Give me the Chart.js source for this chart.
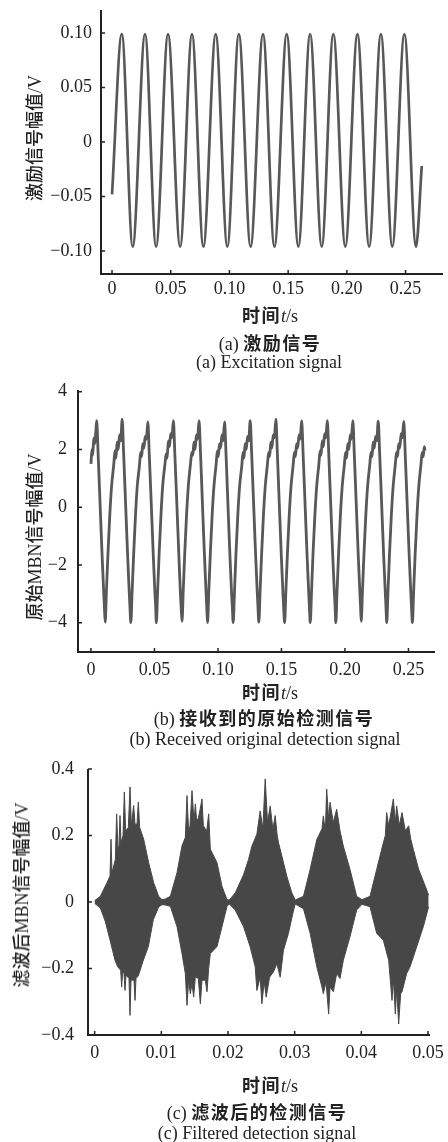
<!DOCTYPE html>
<html lang="zh">
<head>
<meta charset="UTF-8">
<title>MBN signals</title>
<script src="https://cdn.jsdelivr.net/npm/chart.js"></script>
<style>
  html, body { margin: 0; padding: 0; overflow: hidden; background: #fff; }
  #page { position: relative; width: 448px; height: 1142px; }
  canvas { position: absolute; left: 0; }
  .t { position: absolute; transform: translate(-50%, -50%); white-space: nowrap; line-height: 1;
       font-family: "Liberation Serif", "Noto Sans CJK SC", serif; font-size: 18px; color: #222; }
  .yt { transform: translate(-50%, -50%) rotate(-90deg); }
  .zh { font-family: "Noto Sans CJK SC", sans-serif; font-weight: 500; }
  .b { font-weight: bold; letter-spacing: 1.5px; }
</style>
</head>
<body>
<div id="page">
  <canvas id="chartA" width="470" height="334" style="top:-20px"></canvas>
  <canvas id="chartB" width="470" height="332" style="top:360px"></canvas>
  <canvas id="chartC" width="470" height="336" style="top:739px"></canvas>

  <div class="t yt" style="left:34px; top:138px"><span class="zh">激励信号幅值</span>/V</div>
  <div class="t" style="left:270px; top:315px"><span class="zh b">时间</span><i>t</i>/s</div>
  <div class="t" style="left:270px; top:343px">(a) <span class="zh b">激励信号</span></div>
  <div class="t" style="left:269px; top:362px">(a) Excitation signal</div>

  <div class="t yt" style="left:34px; top:537px"><span class="zh">原始</span>MBN<span class="zh">信号幅值</span>/V</div>
  <div class="t" style="left:270px; top:692px"><span class="zh b">时间</span><i>t</i>/s</div>
  <div class="t" style="left:264px; top:718px">(b) <span class="zh b">接收到的原始检测信号</span></div>
  <div class="t" style="left:265px; top:739px">(b) Received original detection signal</div>

  <div class="t yt" style="left:21px; top:895px"><span class="zh">滤波后</span>MBN<span class="zh">信号幅值</span>/V</div>
  <div class="t" style="left:270px; top:1085px"><span class="zh b">时间</span><i>t</i>/s</div>
  <div class="t" style="left:257px; top:1112px">(c) <span class="zh b">滤波后的检测信号</span></div>
  <div class="t" style="left:257px; top:1133px">(c) Filtered detection signal</div>
</div>

<script>
// ---- (a) excitation signal: start, alternating peaks / troughs, end
const aTime = [0, 0.0083, 0.0176, 0.0281, 0.0375, 0.0477, 0.0580, 0.0681, 0.0778, 0.0883, 0.0982,
  0.1080, 0.1180, 0.1286, 0.1383, 0.1488, 0.1587, 0.1687, 0.1786, 0.1885, 0.1987, 0.2090,
  0.2190, 0.2290, 0.2387, 0.2490, 0.2589, 0.2638];
const aVolt = [-0.048, 0.099, -0.096, 0.099, -0.096, 0.099, -0.096, 0.099, -0.096, 0.099, -0.096,
  0.099, -0.096, 0.099, -0.096, 0.099, -0.096, 0.099, -0.096, 0.099, -0.096, 0.099,
  -0.096, 0.099, -0.096, 0.099, -0.096, -0.022];

// ---- (b) received original signal
const bTime = [
  0.0000, 0.0008, 0.0014, 0.0022, 0.0030, 0.0038, 0.0045, 0.0056, 0.0072, 0.0088, 0.0101, 0.0106,
  0.0112, 0.0122, 0.0134, 0.0148, 0.0162, 0.0180, 0.0189, 0.0197, 0.0206, 0.0215, 0.0225, 0.0234, 0.0246, 0.0257, 0.0273, 0.0289, 0.0302, 0.0307,
  0.0314, 0.0324, 0.0336, 0.0350, 0.0364, 0.0382, 0.0391, 0.0399, 0.0408, 0.0417, 0.0427, 0.0436, 0.0448, 0.0459, 0.0475, 0.0491, 0.0504, 0.0509,
  0.0515, 0.0525, 0.0537, 0.0551, 0.0565, 0.0583, 0.0592, 0.0600, 0.0609, 0.0618, 0.0628, 0.0637, 0.0649, 0.0660, 0.0676, 0.0692, 0.0705, 0.0710,
  0.0717, 0.0727, 0.0739, 0.0753, 0.0767, 0.0785, 0.0794, 0.0802, 0.0811, 0.0820, 0.0830, 0.0839, 0.0851, 0.0862, 0.0878, 0.0894, 0.0907, 0.0912,
  0.0918, 0.0928, 0.0940, 0.0954, 0.0968, 0.0986, 0.0995, 0.1003, 0.1012, 0.1021, 0.1031, 0.1040, 0.1052, 0.1063, 0.1079, 0.1095, 0.1108, 0.1113,
  0.1120, 0.1130, 0.1142, 0.1156, 0.1170, 0.1188, 0.1197, 0.1205, 0.1214, 0.1223, 0.1233, 0.1242, 0.1254, 0.1265, 0.1281, 0.1297, 0.1310, 0.1315,
  0.1322, 0.1332, 0.1344, 0.1358, 0.1372, 0.1390, 0.1399, 0.1407, 0.1416, 0.1425, 0.1435, 0.1444, 0.1456, 0.1467, 0.1483, 0.1499, 0.1512, 0.1517,
  0.1525, 0.1535, 0.1547, 0.1561, 0.1575, 0.1593, 0.1602, 0.1610, 0.1619, 0.1628, 0.1638, 0.1647, 0.1659, 0.1670, 0.1686, 0.1702, 0.1715, 0.1720,
  0.1727, 0.1737, 0.1749, 0.1763, 0.1777, 0.1795, 0.1804, 0.1812, 0.1821, 0.1830, 0.1840, 0.1849, 0.1861, 0.1872, 0.1888, 0.1904, 0.1917, 0.1922,
  0.1928, 0.1938, 0.1950, 0.1964, 0.1978, 0.1996, 0.2005, 0.2013, 0.2022, 0.2031, 0.2041, 0.2050, 0.2062, 0.2073, 0.2089, 0.2105, 0.2118, 0.2123,
  0.2128, 0.2138, 0.2150, 0.2164, 0.2178, 0.2196, 0.2205, 0.2213, 0.2222, 0.2231, 0.2241, 0.2250, 0.2262, 0.2273, 0.2289, 0.2305, 0.2318, 0.2323,
  0.2329, 0.2339, 0.2351, 0.2365, 0.2379, 0.2397, 0.2406, 0.2414, 0.2423, 0.2432, 0.2442, 0.2451, 0.2463, 0.2474, 0.2490, 0.2506, 0.2519, 0.2524,
  0.2531, 0.2541, 0.2553, 0.2567, 0.2581, 0.2599, 0.2608, 0.2616, 0.2625, 0.2630
];
const bVolt = [
  1.5, 2.0, 1.8, 2.4, 2.2, 2.6, 3.0, 1.9, 0.1, -1.7, -3.0, -3.45,
  -3.98, -2.9, -1.6, -0.3, 0.7, 1.5, 1.95, 1.7, 2.25, 2.0, 2.5, 2.3, 3.05, 1.9, 0.1, -1.7, -3.0, -3.45,
  -4.0, -2.95, -1.65, -0.35, 0.7, 1.45, 1.9, 1.75, 2.2, 2.05, 2.45, 2.35, 2.95, 1.85, 0.1, -1.7, -3.0, -3.4,
  -4.0, -2.9, -1.6, -0.3, 0.75, 1.5, 1.85, 1.7, 2.3, 2.1, 2.55, 2.4, 3.0, 1.9, 0.15, -1.65, -3.05, -3.45,
  -3.95, -2.85, -1.55, -0.25, 0.75, 1.55, 1.9, 1.8, 2.25, 2.0, 2.5, 2.35, 3.0, 1.95, 0.1, -1.7, -3.0, -3.5,
  -4.0, -2.9, -1.6, -0.3, 0.7, 1.5, 1.95, 1.75, 2.2, 2.05, 2.5, 2.3, 2.95, 1.9, 0.05, -1.75, -3.05, -3.45,
  -4.0, -2.95, -1.6, -0.3, 0.7, 1.45, 1.9, 1.7, 2.2, 2.0, 2.45, 2.3, 3.0, 1.9, 0.1, -1.7, -3.0, -3.45,
  -3.98, -2.9, -1.6, -0.3, 0.7, 1.5, 1.9, 1.75, 2.25, 2.05, 2.5, 2.4, 3.05, 1.95, 0.1, -1.7, -3.0, -3.45,
  -4.0, -2.9, -1.6, -0.3, 0.7, 1.5, 1.9, 1.75, 2.2, 2.05, 2.5, 2.35, 3.0, 1.9, 0.1, -1.7, -3.0, -3.45,
  -4.0, -2.9, -1.55, -0.3, 0.7, 1.5, 1.95, 1.8, 2.3, 2.1, 2.55, 2.4, 3.0, 1.9, 0.1, -1.7, -3.0, -3.4,
  -4.0, -2.9, -1.6, -0.3, 0.7, 1.5, 1.9, 1.7, 2.2, 2.0, 2.5, 2.35, 3.0, 1.9, 0.1, -1.7, -3.0, -3.45,
  -3.95, -2.9, -1.6, -0.3, 0.7, 1.5, 1.9, 1.75, 2.25, 2.05, 2.45, 2.3, 2.98, 1.9, 0.1, -1.7, -3.0, -3.45,
  -4.0, -2.9, -1.6, -0.3, 0.7, 1.5, 1.9, 1.75, 2.2, 2.05, 2.55, 2.4, 2.97, 1.9, 0.1, -1.7, -3.0, -3.45,
  -4.0, -2.9, -1.6, -0.3, 0.7, 1.5, 1.9, 1.75, 2.1, 1.96
];

// ---- (c) filtered signal, upper and lower envelope of the bursts
const cTopTime = [0, 0.00085, 0.00185, 0.0023, 0.00245, 0.0026, 0.0031, 0.0033, 0.0035, 0.00365, 0.0038, 0.00395,
  0.00425, 0.00445, 0.00465, 0.00505, 0.0053, 0.0055, 0.00585, 0.00605, 0.00635, 0.00655, 0.00675, 0.00735,
  0.0081, 0.00885, 0.0096, 0.0101, 0.0106,
  0.01135, 0.01235, 0.0131, 0.0136, 0.01385, 0.0141, 0.0143, 0.0146, 0.0149, 0.0151, 0.0153, 0.0156, 0.0161,
  0.0163, 0.0168, 0.0171, 0.01735, 0.01835, 0.0191, 0.01985, 0.0202,
  0.0211, 0.02233, 0.02308, 0.02358, 0.02433, 0.02483, 0.02523, 0.02558, 0.02593, 0.02633, 0.02673, 0.02708,
  0.02738, 0.02758, 0.02808, 0.02883, 0.02958, 0.03008,
  0.03132, 0.03232, 0.03332, 0.0341, 0.0343, 0.0346, 0.0348, 0.0351, 0.0353, 0.0358, 0.0363, 0.0368, 0.0373,
  0.0383, 0.0393, 0.0401,
  0.0413, 0.0423, 0.0433, 0.0436, 0.0438, 0.0441, 0.0448, 0.0451, 0.0453, 0.0457, 0.0461, 0.0466, 0.0471,
  0.0474, 0.0478, 0.0486, 0.0496, 0.0501];
const cTopVolt = [0.004, 0.017, 0.058, 0.078, 0.189, 0.088, 0.128, 0.265, 0.159, 0.169, 0.26, 0.179,
  0.199, 0.331, 0.214, 0.224, 0.346, 0.229, 0.29, 0.234, 0.234, 0.301, 0.224, 0.189,
  0.118, 0.058, 0.017, 0.007, 0.009,
  0.017, 0.088, 0.169, 0.194, 0.32, 0.21, 0.229, 0.335, 0.24, 0.295, 0.242, 0.255, 0.31,
  0.23, 0.212, 0.265, 0.159, 0.118, 0.047, 0.007, 0.006,
  0.028, 0.082, 0.128, 0.168, 0.204, 0.274, 0.22, 0.37, 0.239, 0.289, 0.219, 0.26,
  0.2, 0.178, 0.138, 0.077, 0.027, 0.006,
  0.017, 0.098, 0.188, 0.22, 0.259, 0.21, 0.34, 0.249, 0.3, 0.239, 0.279, 0.214, 0.168,
  0.098, 0.017, 0.007,
  0.017, 0.098, 0.178, 0.2, 0.269, 0.229, 0.31, 0.24, 0.289, 0.23, 0.269, 0.214, 0.229,
  0.19, 0.158, 0.098, 0.047, 0.02];
const cBotTime = [0, 0.00085, 0.0016, 0.0023, 0.00305, 0.00345, 0.0039, 0.00405, 0.0042, 0.0044, 0.00455, 0.0047,
  0.00515, 0.0053, 0.00545, 0.0059, 0.00605, 0.0062, 0.00655, 0.0073, 0.00805, 0.0088, 0.0096, 0.0101, 0.0106,
  0.01135, 0.01235, 0.0131, 0.0136, 0.01385, 0.0141, 0.01435, 0.0146, 0.01485, 0.0151, 0.01555, 0.01585, 0.0161,
  0.0166, 0.01685, 0.0171, 0.01735, 0.01835, 0.0191, 0.01985, 0.0202,
  0.02108, 0.02233, 0.02333, 0.02408, 0.02433, 0.02483, 0.02508, 0.02543, 0.02573, 0.02623, 0.02683, 0.02733,
  0.02783, 0.02832, 0.02907, 0.02973, 0.03008,
  0.03132, 0.03232, 0.03332, 0.0341, 0.0343, 0.0347, 0.0351, 0.0353, 0.0358, 0.0363, 0.0368, 0.0373, 0.0383,
  0.0393, 0.0401,
  0.0413, 0.0423, 0.0433, 0.0441, 0.0446, 0.0448, 0.0451, 0.0453, 0.0456, 0.0459, 0.0461, 0.0468, 0.0473,
  0.0483, 0.0493, 0.0501];
const cBotVolt = [-0.004, -0.018, -0.059, -0.114, -0.175, -0.195, -0.205, -0.256, -0.21, -0.215, -0.266, -0.22,
  -0.23, -0.341, -0.235, -0.235, -0.296, -0.23, -0.222, -0.175, -0.134, -0.053, -0.015, -0.008, -0.009,
  -0.013, -0.074, -0.155, -0.215, -0.311, -0.235, -0.276, -0.245, -0.286, -0.225, -0.23, -0.306, -0.235,
  -0.235, -0.27, -0.2, -0.155, -0.134, -0.074, -0.013, -0.006,
  -0.024, -0.074, -0.135, -0.195, -0.266, -0.226, -0.306, -0.24, -0.286, -0.226, -0.21, -0.185,
  -0.226, -0.145, -0.094, -0.034, -0.006,
  -0.02, -0.094, -0.195, -0.256, -0.276, -0.24, -0.337, -0.256, -0.27, -0.215, -0.23, -0.175, -0.104,
  -0.024, -0.007,
  -0.014, -0.094, -0.115, -0.175, -0.296, -0.23, -0.337, -0.26, -0.367, -0.276, -0.27, -0.215, -0.195,
  -0.135, -0.074, -0.014];

// ---- axes
const xTicksAB = [0, 0.05, 0.10, 0.15, 0.20, 0.25];
const xLabelsAB = ['0', '0.05', '0.10', '0.15', '0.20', '0.25'];
const yTicksA = [-0.10, -0.05, 0, 0.05, 0.10];
const yLabelsA = ['\u22120.10', '\u22120.05', '0', '0.05', '0.10'];
const yTicksB = [-4, -2, 0, 2, 4];
const yLabelsB = ['\u22124', '\u22122', '0', '2', '4'];
const xTicksC = [0, 0.01, 0.02, 0.03, 0.04, 0.05];
const xLabelsC = ['0', '0.01', '0.02', '0.03', '0.04', '0.05'];
const yTicksC = [-0.4, -0.2, 0, 0.2, 0.4];
const yLabelsC = ['\u22120.4', '\u22120.2', '0', '0.2', '0.4'];

const pts = (ts, vs) => ts.map((t, i) => ({ x: t, y: vs[i] }));

// left + bottom axis lines with short inward ticks
const inwardAxes = {
  id: 'inwardAxes',
  afterDatasetsDraw(chart) {
    const { ctx, chartArea: a, scales: { x, y } } = chart;
    ctx.save();
    ctx.strokeStyle = '#222';
    ctx.lineWidth = 2;
    ctx.beginPath();
    ctx.moveTo(a.left, a.top);
    ctx.lineTo(a.left, a.bottom);
    ctx.lineTo(a.right, a.bottom);
    ctx.stroke();
    ctx.lineWidth = 1.5;
    ctx.beginPath();
    x.ticks.forEach(t => {
      const px = x.getPixelForValue(t.value);
      ctx.moveTo(px, a.bottom);
      ctx.lineTo(px, a.bottom - 4);
    });
    y.ticks.forEach(t => {
      const py = y.getPixelForValue(t.value);
      ctx.moveTo(a.left, py);
      ctx.lineTo(a.left + 4, py);
    });
    ctx.stroke();
    ctx.restore();
  }
};

const tickFont = { family: "'Liberation Serif', serif", size: 18 };

function axis(min, max, ticks, labels, pad, fitSize, horizontal) {
  return {
    type: 'linear', min, max,
    grid: { display: false, drawTicks: false },
    border: { display: false },
    afterBuildTicks: s => { s.ticks = ticks.map(v => ({ value: v })); },
    afterFit: s => { if (horizontal) s.height = fitSize; else s.width = fitSize; },
    ticks: {
      autoSkip: false, maxRotation: 0, minRotation: 0, padding: pad,
      color: '#222', font: tickFont,
      callback: (v, i) => labels[i]
    }
  };
}

function makeChart(id, datasets, xs, ys, padRight) {
  return new Chart(document.getElementById(id), {
    type: 'line',
    data: { datasets },
    options: {
      responsive: false, animation: false,
      layout: { padding: { top: 30, right: padRight, left: 0, bottom: 0 } },
      plugins: { legend: { display: false }, tooltip: { enabled: false } },
      scales: { x: xs, y: ys }
    },
    plugins: [inwardAxes]
  });
}

makeChart('chartA', [{
  data: pts(aTime, aVolt), borderColor: '#585858', borderWidth: 2.7,
  pointRadius: 0, fill: false, cubicInterpolationMode: 'monotone'
}],
  axis(-0.0094, 0.2819, xTicksAB, xLabelsAB, 4, 40, true),
  axis(-0.1211, 0.1211, yTicksA, yLabelsA, 9, 101, false), 27);

makeChart('chartB', [{
  data: pts(bTime, bVolt), borderColor: '#585858', borderWidth: 2.8,
  pointRadius: 0, fill: false, cubicInterpolationMode: 'monotone'
}],
  axis(-0.0102, 0.2709, xTicksAB, xLabelsAB, 7.5, 40, true),
  axis(-5.015, 4.059, yTicksB, yLabelsB, 11, 78, false), 35);

makeChart('chartC', [
  { data: pts(cTopTime, cTopVolt), borderColor: '#474747', backgroundColor: '#474747',
    borderWidth: 1, pointRadius: 0, fill: 'origin', tension: 0 },
  { data: pts(cBotTime, cBotVolt), borderColor: '#474747', backgroundColor: '#474747',
    borderWidth: 1, pointRadius: 0, fill: 'origin', tension: 0 }
],
  axis(-0.001, 0.0503, xTicksC, xLabelsC, 7, 40, true),
  axis(-0.4, 0.4, yTicksC, yLabelsC, 14, 88, false), 40);
</script>
</body>
</html>
